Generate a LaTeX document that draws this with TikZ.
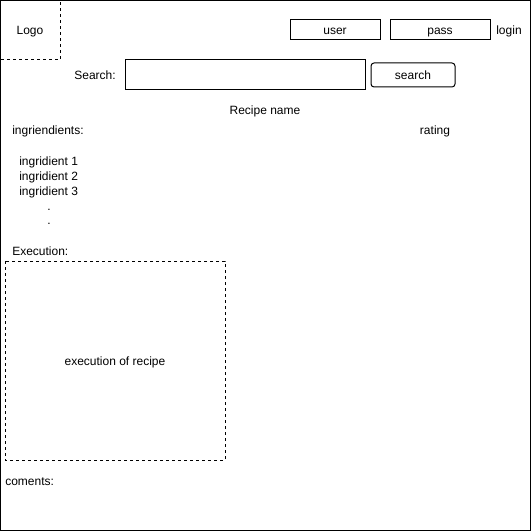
\documentclass[tikz,border=0pt]{standalone}
\usepackage{fontspec}
\setmainfont{Liberation Sans}
\begin{document}
\begin{tikzpicture}[x=0.75pt,y=-0.75pt,
  every node/.style={font=\fontsize{9}{10.5}\selectfont, inner sep=0pt, anchor=base},
  frame/.style={draw=black, line width=0.75pt},
  dbox/.style={draw=black, line width=0.75pt, dash pattern=on 2.25pt off 2.25pt},
  field/.style={draw=black, line width=0.75pt},
  btn/.style={draw=black, line width=0.75pt, rounded corners=2.25pt},
  lbl/.style={anchor=base west}]
\useasboundingbox (0,0) rectangle (531,531);
\fill[white] (0,0) rectangle (531,531);
\draw[frame] (0.5,0.5) rectangle (530,530);
% logo
\draw[dbox] (0.5,0.5) rectangle (60,60);
\node (logo) at (30,35) {Logo};
% login
\draw[field] (290,20) rectangle (380,40);
\node (user) at (335,35) {user};
\draw[field] (390,20) rectangle (490,40);
\node (pass) at (440,35) {pass};
\node (login) at (509,35) {login};
% search
\node[anchor=base east] (searchlbl) at (116,80) {Search:};
\draw[field] (125,60) rectangle (365,90);
\draw[btn] (371,63) rectangle (455,87);
\node (searchbtn) at (413,80) {search};
% recipe
\node (title) at (265,115) {Recipe name};
\node[lbl] (ingr) at (12,135) {ingriendients:};
\node (rating) at (435,135) {rating};
\node[lbl] (i1) at (19,166) {ingridient 1};
\node[lbl] (i2) at (19,180) {ingridient 2};
\node[lbl] (i3) at (19,195) {ingridient 3};
\node (d1) at (49,210) {.};
\node (d2) at (49,224) {.};
\node[lbl] (exec) at (12,255) {Execution:};
\draw[dbox] (5,261) rectangle (225,460);
\node (execbox) at (115,365) {execution of recipe};
\node[lbl] (com) at (5,485.5) {coments:};
\end{tikzpicture}
\end{document}
